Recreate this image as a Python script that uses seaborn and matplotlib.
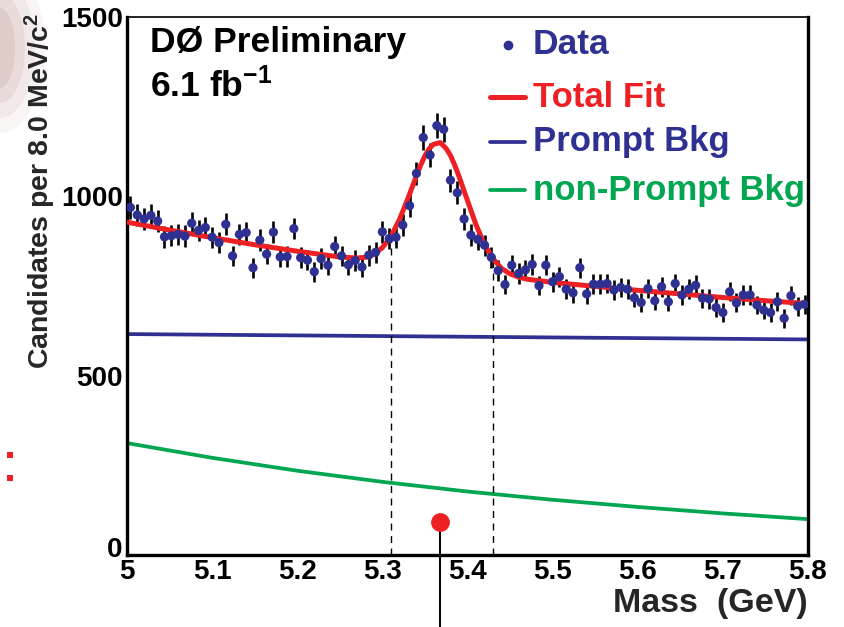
import numpy as np
import matplotlib
matplotlib.use("Agg")
import matplotlib.pyplot as plt
import matplotlib.transforms as mtransforms
import seaborn as sns
from matplotlib.ticker import MultipleLocator
from matplotlib.patches import Ellipse, Rectangle

# histogram: 100 bins of 8 MeV from 5.0 to 5.8 GeV
mass_lo = 5.0
bin_width = 0.008
counts = np.array([
    969, 948, 937, 947, 931, 887, 890, 894, 889, 925,
    905, 913, 886, 871, 922, 834, 894, 899, 801, 878,
    839, 900, 831, 832, 910, 829, 822, 790, 826, 808,
    860, 834, 809, 821, 803, 836, 844, 901, 882, 886,
    920, 974, 1064, 1164, 1115, 1197, 1187, 1045, 1010, 937,
    892, 880, 864, 830, 793, 754, 808, 785, 795, 810,
    751, 808, 762, 776, 741, 731, 801, 728, 755, 755,
    757, 739, 746, 741, 717, 704, 743, 709, 748, 706,
    757, 725, 741, 752, 716, 714, 690, 676, 734, 703,
    725, 725, 697, 683, 676, 706, 660, 723, 694, 699])
centers = mass_lo + bin_width * (np.arange(len(counts)) + 0.5)

# total fit
fit_x = [5.00, 5.05, 5.10, 5.15, 5.20, 5.25, 5.27, 5.28, 5.29, 5.30, 5.31, 5.32,
         5.33, 5.34, 5.345, 5.35, 5.355, 5.36, 5.368, 5.375, 5.38, 5.385, 5.39,
         5.40, 5.41, 5.42, 5.43, 5.44, 5.45, 5.46, 5.47, 5.50, 5.55, 5.60, 5.65,
         5.70, 5.75, 5.80]
fit_y = [928, 906, 885, 865, 847, 831, 828, 830, 838, 857, 888, 935,
         994, 1057, 1087, 1113, 1133, 1145, 1150, 1133, 1114, 1087, 1056,
         988, 921, 866, 826, 799, 784, 775, 769, 760, 749, 738, 728,
         718, 709, 701]

prompt_x = [5.0, 5.8]
prompt_y = [616, 601]

nonprompt_x = [5.0, 5.1, 5.2, 5.3, 5.4, 5.5, 5.6, 5.7, 5.8]
nonprompt_y = [312, 271, 235, 204, 177, 154, 134, 116, 100]

# signal window and peak marker
window_x = [5.31, 5.43]
window_top = [880, 826]
peak_x = 5.368
peak_y = 92

xtick_vals = [5.0, 5.1, 5.2, 5.3, 5.4, 5.5, 5.6, 5.7, 5.8]
xtick_labels = ["5", "5.1", "5.2", "5.3", "5.4", "5.5", "5.6", "5.7", "5.8"]
ytick_vals = [0, 500, 1000, 1500]
ytick_labels = ["0", "500", "1000", "1500"]

BLUE = "#2e3192"
RED = "#ed2024"
GREEN = "#00a651"


def main():
    sns.set_style("white")
    plt.rcParams['font.family'] = ['Liberation Sans', 'DejaVu Sans']
    plt.rcParams['font.weight'] = 'bold'
    plt.rcParams['mathtext.fontset'] = 'custom'
    plt.rcParams['mathtext.bf'] = 'Liberation Sans:bold'
    plt.rcParams['mathtext.rm'] = 'Liberation Sans:bold'
    plt.rcParams['mathtext.default'] = 'bf'

    fig = plt.figure(figsize=(8.44, 6.27), dpi=100)
    ax = fig.add_axes([0.1505, 0.1148, 0.8068, 0.8581])

    sns.lineplot(x=nonprompt_x, y=nonprompt_y, ax=ax, color=GREEN, lw=2.7)
    sns.lineplot(x=prompt_x, y=prompt_y, ax=ax, color=BLUE, lw=2.7)
    ax.vlines(window_x, 0, window_top, colors="black", linestyles=(0, (5, 4)), lw=1)
    ax.errorbar(centers, counts, yerr=np.sqrt(counts), fmt="none", ecolor="black",
                elinewidth=1.9, capsize=0, zorder=3)
    sns.lineplot(x=fit_x, y=fit_y, ax=ax, color=RED, lw=3.6, zorder=4)
    sns.scatterplot(x=centers, y=counts, ax=ax, s=44, color=BLUE, edgecolor="none", zorder=5)

    # peak position marker
    ax.plot([peak_x, peak_x], [peak_y, -200], color="black", lw=1.4, clip_on=False)
    ax.plot([peak_x], [peak_y], "o", ms=12.5, color=RED, clip_on=False, zorder=6)

    ax.set_xlim(5.0, 5.8)
    ax.set_ylim(0, 1500)
    ax.set_xticks(xtick_vals, xtick_labels)
    ax.set_yticks(ytick_vals, ytick_labels)
    ax.xaxis.set_minor_locator(MultipleLocator(0.02))
    ax.yaxis.set_minor_locator(MultipleLocator(100))
    ax.tick_params(which="both", direction="in", top=False, right=False,
                   colors="black", width=1.6, labelsize=20)
    ax.tick_params(which="major", length=14, pad=3)
    ax.tick_params(which="minor", length=7)
    for name, sp in ax.spines.items():
        sp.set_color("black")
        sp.set_linewidth(1.2 if name == "top" else 2.4)

    # lift the "0" a little so it sits on top of the "5"
    zero_lbl = ax.get_yticklabels()[0]
    zero_lbl.set_transform(zero_lbl.get_transform() +
                           mtransforms.ScaledTranslation(0, 6 / 72, fig.dpi_scale_trans))

    # header
    ax.text(0.034, 0.953, "DØ Preliminary", transform=ax.transAxes, fontsize=25.5,
            va="center", ha="left", color="black")
    ax.text(0.034, 0.872, "6.1 fb$^{-1}$", transform=ax.transAxes, fontsize=25.5,
            va="center", ha="left", color="black")

    # legend drawn by hand
    ax.plot([0.5595], [0.948], "o", ms=6, color=BLUE, transform=ax.transAxes)
    ax.text(0.596, 0.948, "Data", color=BLUE, fontsize=25.5, va="center",
            transform=ax.transAxes)
    rows = [(0.851, "Total Fit", RED, 3.6), (0.768, "Prompt Bkg", BLUE, 2.7),
            (0.678, "non-Prompt Bkg", GREEN, 2.7)]
    for y, label, col, lw in rows:
        ax.plot([0.533, 0.5844], [y, y], color=col, lw=lw, transform=ax.transAxes)
        ax.text(0.596, y, label, color=col, fontsize=25, va="center",
                transform=ax.transAxes)

    fig.text(0.048, 0.695, "Candidates per 8.0 MeV/c$^{2}$", rotation=90,
             fontsize=20.5, ha="center", va="center")
    fig.text(0.957, 0.038, "Mass  (GeV)", fontsize=24.5, ha="right", va="center")

    # slide leftovers at the left edge
    for w, h, a in [(90, 170, 0.06), (70, 140, 0.08), (50, 110, 0.10), (30, 80, 0.12)]:
        fig.add_artist(Ellipse((0.0, 1 - 48 / 627), w / 844, h / 627,
                               transform=fig.transFigure, color="#9c6458",
                               alpha=a, lw=0))
    for yy in [458, 481]:
        fig.add_artist(Rectangle((7 / 844, 1 - yy / 627), 6 / 844, 6 / 627,
                                 transform=fig.transFigure, color=RED, lw=0))

    fig.savefig("out.png", dpi=100)


if __name__ == '__main__':
    main()
